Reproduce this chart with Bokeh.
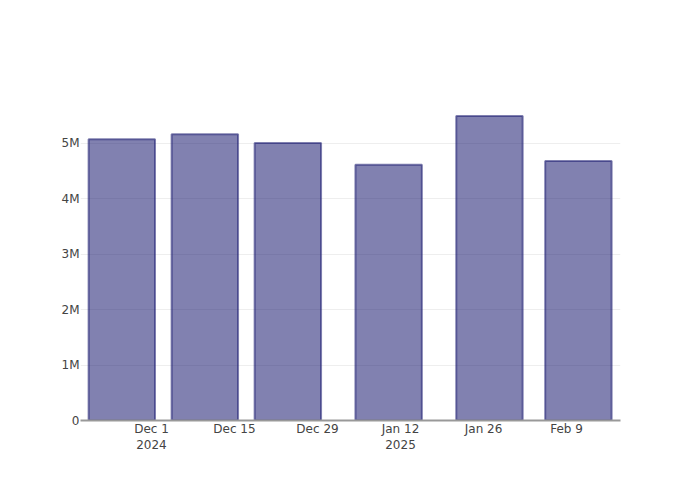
import pandas as pd
from bokeh.plotting import figure
from bokeh.models import Range1d, FixedTicker
from bokeh.embed import file_html
from bokeh.resources import INLINE

# data
dates = ["2024-11-26", "2024-12-10", "2024-12-24", "2025-01-10", "2025-01-27", "2025-02-11"]
values = [5.07e6, 5.16e6, 5.005e6, 4.61e6, 5.49e6, 4.68e6]

x_tick_dates = ["2024-12-01", "2024-12-15", "2024-12-29", "2025-01-12", "2025-01-26", "2025-02-09"]
x_tick_labels = ["Dec 1\n2024", "Dec 15", "Dec 29", "Jan 12\n2025", "Jan 26", "Feb 9"]
y_ticks = [0, 1e6, 2e6, 3e6, 4e6, 5e6]
y_tick_labels = ["0", "1M", "2M", "3M", "4M", "5M"]

DAY = 86400000.0
x = pd.to_datetime(dates)
ref = pd.Timestamp("2024-12-01")

p = figure(width=700, height=500, output_backend="svg", toolbar_location=None,
           x_axis_type="datetime",
           x_range=Range1d(ref - pd.Timedelta(days=11.97), ref + pd.Timedelta(days=79.1)),
           y_range=Range1d(0, 5.77e6),
           min_border_left=80, min_border_right=80, min_border_top=100, min_border_bottom=80)
p.outline_line_color = None
p.background_fill_color = "white"
p.border_fill_color = "white"

p.vbar(x=x, top=values, bottom=0, width=11.2 * DAY,
       fill_color="midnightblue", fill_alpha=0.55,
       line_color="midnightblue", line_alpha=0.55, line_width=2)

xt = [float(pd.Timestamp(d).value // 10**6) for d in x_tick_dates]
p.xaxis.ticker = FixedTicker(ticks=xt)
p.xaxis.major_label_overrides = {t: l for t, l in zip(xt, x_tick_labels)}
p.yaxis.ticker = FixedTicker(ticks=y_ticks)
p.yaxis.major_label_overrides = {float(t): l for t, l in zip(y_ticks, y_tick_labels)}

for ax in (p.xaxis, p.yaxis):
    ax.major_tick_line_color = None
    ax.minor_tick_line_color = None
    ax.major_tick_out = 0
    ax.major_tick_in = 0
    ax.minor_tick_out = 0
    ax.minor_tick_in = 0
    ax.major_label_text_font = "DejaVu Sans"
    ax.major_label_text_font_size = "12px"
    ax.major_label_text_color = "#444444"
p.yaxis.axis_line_color = None
p.yaxis.major_label_standoff = 1
p.xaxis.axis_line_color = "#999999"
p.xaxis.axis_line_width = 2
p.xaxis.major_label_standoff = 1

p.xgrid.grid_line_color = None
p.ygrid.grid_line_color = "#eeeeee"
p.ygrid.grid_line_width = 1

open("out.html", "w").write(file_html(p, INLINE))
